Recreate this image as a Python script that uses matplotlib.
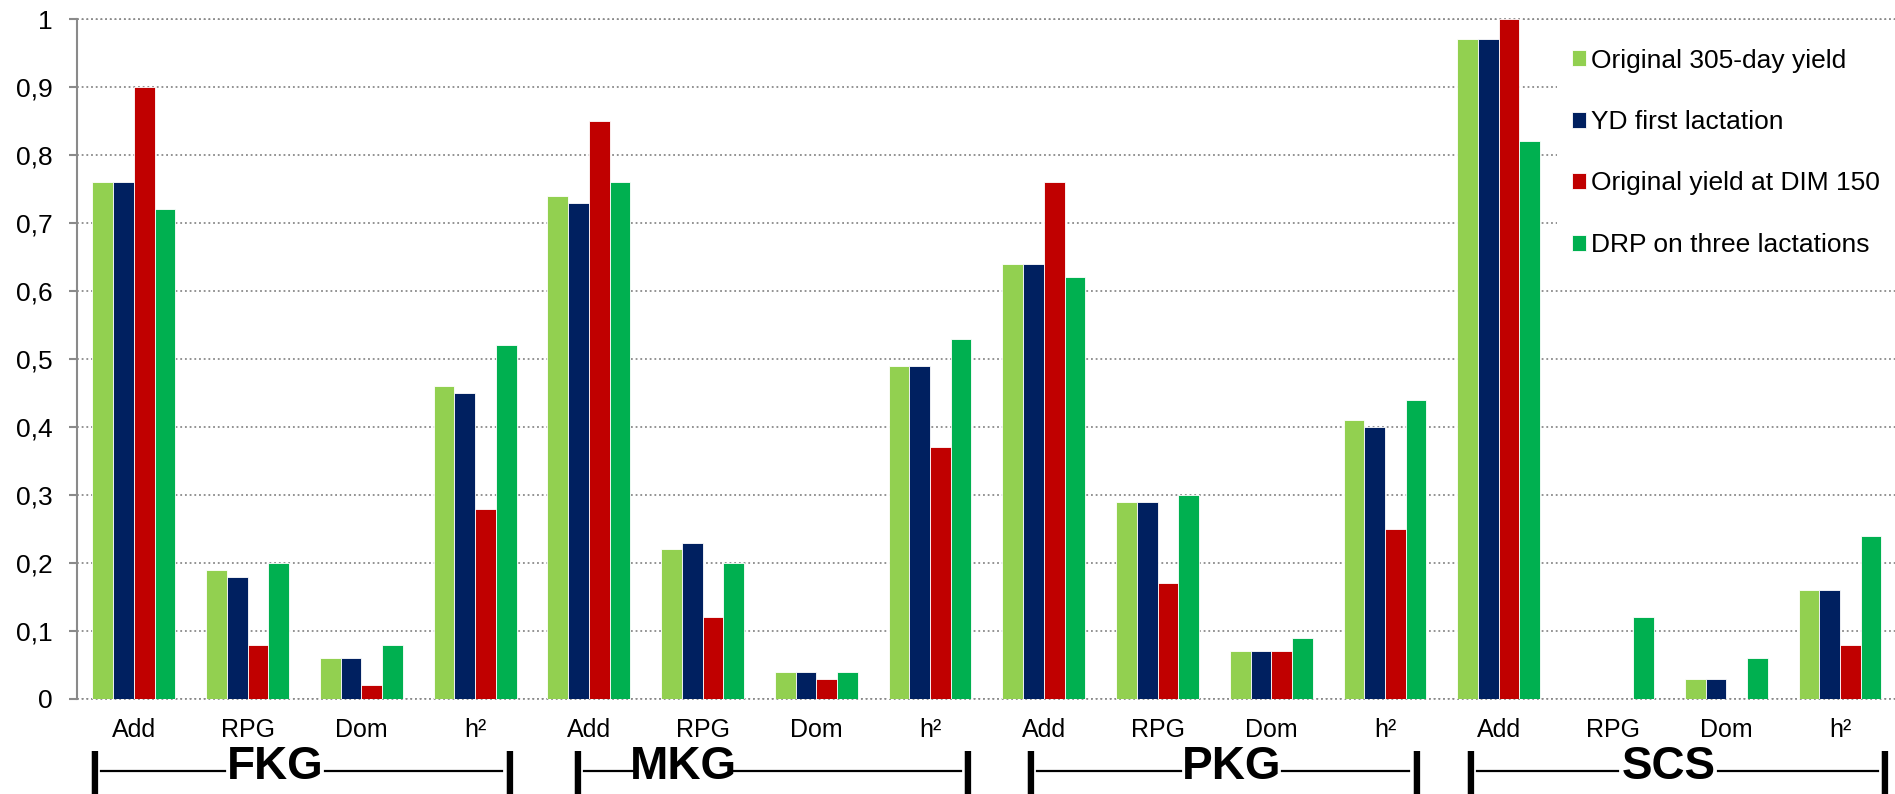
import numpy as np
import matplotlib
matplotlib.use("Agg")
import matplotlib.pyplot as plt
import matplotlib.transforms as mtransforms

plt.rcParams['font.family'] = ['Liberation Sans', 'DejaVu Sans']

# ---- data ----
components = ["Add", "RPG", "Dom", "h²"]
traits = ["FKG", "MKG", "PKG", "SCS"]
series_names = ["Original 305-day yield", "YD first lactation",
                "Original yield at DIM 150", "DRP on three lactations"]
colors = ["#92D050", "#002060", "#C00000", "#00B050"]

original_305 = [0.76, 0.19, 0.06, 0.46, 0.74, 0.22, 0.04, 0.49,
                0.64, 0.29, 0.07, 0.41, 0.97, np.nan, 0.03, 0.16]
yd_first = [0.76, 0.18, 0.06, 0.45, 0.73, 0.23, 0.04, 0.49,
            0.64, 0.29, 0.07, 0.40, 0.97, np.nan, 0.03, 0.16]
yield_dim150 = [0.90, 0.08, 0.02, 0.28, 0.85, 0.12, 0.03, 0.37,
                0.76, 0.17, 0.07, 0.25, 1.00, np.nan, np.nan, 0.08]
drp_three = [0.72, 0.20, 0.08, 0.52, 0.76, 0.20, 0.04, 0.53,
             0.62, 0.30, 0.09, 0.44, 0.82, 0.12, 0.06, 0.24]
series = [original_305, yd_first, yield_dim150, drp_three]

y_ticks = [0, 0.1, 0.2, 0.3, 0.4, 0.5, 0.6, 0.7, 0.8, 0.9, 1]
y_tick_labels = ["0", "0,1", "0,2", "0,3", "0,4", "0,5", "0,6", "0,7",
                 "0,8", "0,9", "1"]

# bracket layout (relative to first category of each trait): left bar, label centre, right bar
bracket_layout = [(-0.35, 1.24, 3.30), (-0.10, 0.83, 3.33),
                  (-0.12, 1.65, 3.27), (-0.25, 1.49, 3.39)]

# ---- figure ----
W, H = 1895, 794
fig = plt.figure(figsize=(W / 100, H / 100), dpi=100)
ax = fig.add_axes([77 / W, 1 - 699 / H, (W - 77) / W + 0.001, 680 / H])

labels = components * len(traits)
x = np.arange(len(labels))
bw = 0.182
for i, (vals, c, name) in enumerate(zip(series, colors, series_names)):
    ax.bar(x + (i - 1.5) * bw, vals, width=bw, color=c, label=name,
           edgecolor="white", linewidth=0.6, zorder=3)

ax.set_xlim(-0.5, len(labels) - 0.5)
ax.set_ylim(0, 1)
ax.set_yticks(y_ticks)
ax.set_yticklabels(y_tick_labels, fontsize=19)
ax.yaxis.grid(True, color="#8a8a8a", linestyle=(0, (1, 1.6)), linewidth=1.3, zorder=0)
ax.set_axisbelow(True)
for s in ["top", "right", "bottom"]:
    ax.spines[s].set_visible(False)
ax.spines["left"].set_color("#8a8a8a")
ax.spines["left"].set_linewidth(1.5)
ax.tick_params(axis="y", length=5.8, width=1.5, color="#8a8a8a", pad=11.5)
ax.set_xticks([])
for yv in [0, 1]:
    ax.axhline(yv, color="#8a8a8a", linestyle=(0, (1, 1.6)), linewidth=1.3, zorder=1, clip_on=False)

trans = mtransforms.blended_transform_factory(ax.transData, ax.transAxes)
for xi, lab in zip(x, labels):
    ax.text(xi, -0.045, lab, transform=trans, ha="center", va="center", fontsize=18)

yb = -0.1
yl = -0.106
for g, (tr, (lb, lc, rb)) in enumerate(zip(traits, bracket_layout)):
    base = 4 * g
    ax.text(base + lc, yb, tr, transform=trans, ha="center", va="center",
            fontsize=33, fontweight="bold")
    for xb in (base + lb, base + rb):
        ax.text(xb, yb - 0.012, "|", transform=trans, ha="center", va="center",
                fontsize=36, fontweight="bold")
    half = 0.44
    ax.plot([base + lb + 0.06, base + lc - half], [yl, yl], transform=trans,
            color="black", linewidth=1.6, clip_on=False)
    ax.plot([base + lc + half, base + rb - 0.06], [yl, yl], transform=trans,
            color="black", linewidth=1.6, clip_on=False)

x0 = 1557 / W
leg = ax.legend(loc="upper left",
                bbox_to_anchor=(x0, 1 - 34 / H, 1 - x0, 0.0),
                mode="expand",
                bbox_transform=fig.transFigure, fontsize=19, frameon=True,
                facecolor="white", edgecolor="none", framealpha=1,
                handlelength=0.55, handleheight=0.55, handletextpad=0.2,
                labelspacing=1.42, borderpad=0.55, borderaxespad=0)
leg.set_zorder(10)

fig.savefig("out.png", dpi=100)
